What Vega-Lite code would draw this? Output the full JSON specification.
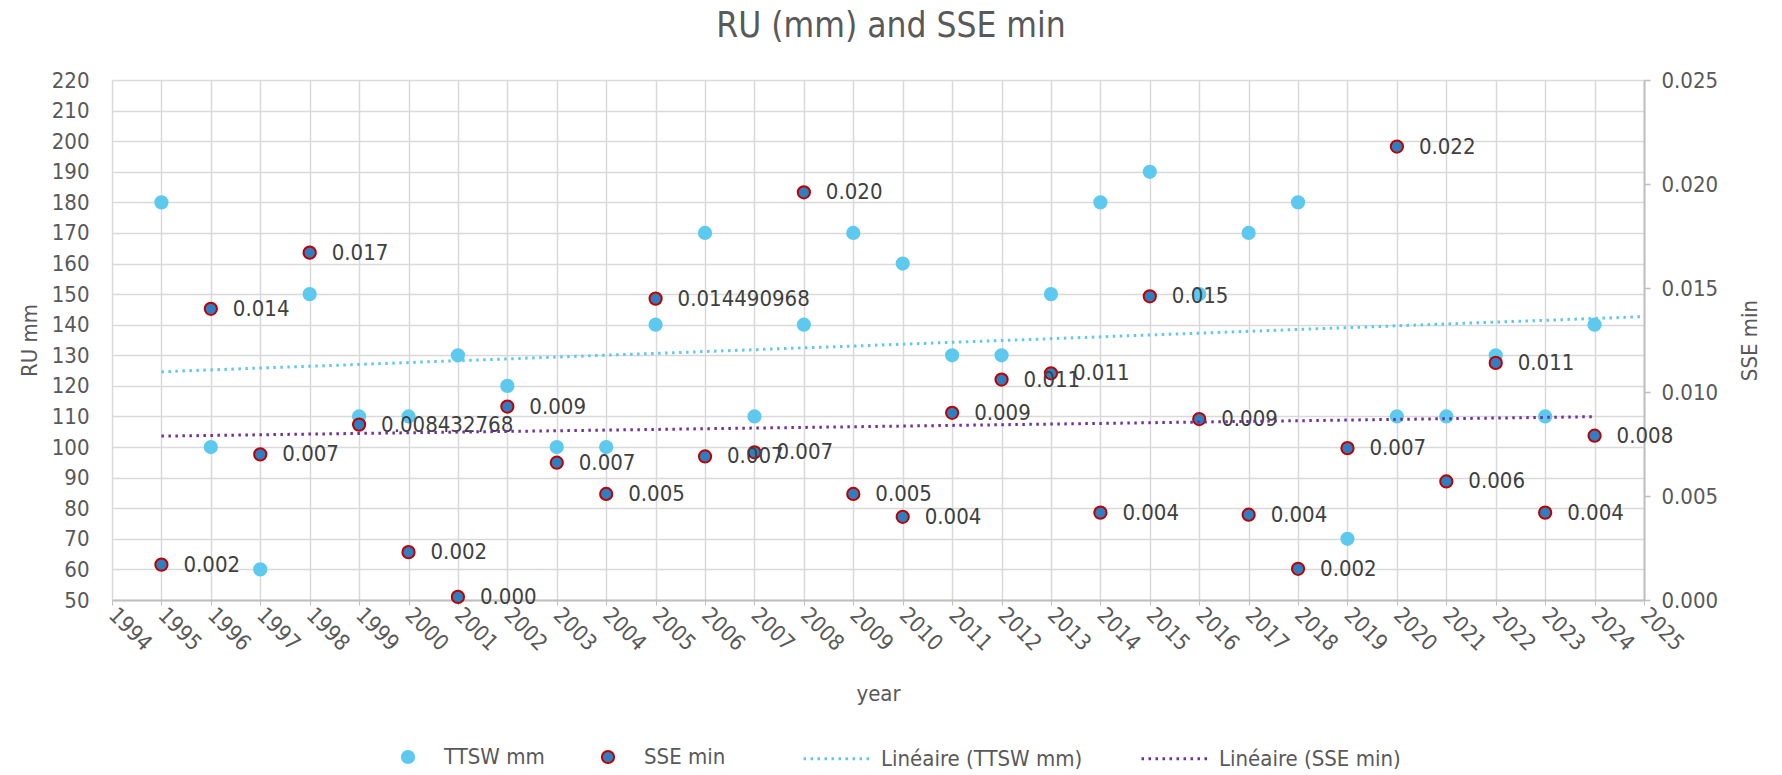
{
  "$schema": "https://vega.github.io/schema/vega-lite/v6.json",
  "width": 1532,
  "height": 520,
  "autosize": {"type": "none"},
  "padding": {"left": 112, "top": 80, "right": 138, "bottom": 175},
  "background": "white",
  "title": {"text": "RU (mm) and SSE min", "fontSize": 35, "font": "DejaVu Sans Condensed", "fontWeight": "normal", "color": "#595959", "anchor": "middle", "offset": 25, "dx": 13},
  "data": {"values": [
    {"year": 1995, "series": "TTSW mm", "value": 180},
    {"year": 1996, "series": "TTSW mm", "value": 100},
    {"year": 1997, "series": "TTSW mm", "value": 60},
    {"year": 1998, "series": "TTSW mm", "value": 150},
    {"year": 1999, "series": "TTSW mm", "value": 110},
    {"year": 2000, "series": "TTSW mm", "value": 110},
    {"year": 2001, "series": "TTSW mm", "value": 130},
    {"year": 2002, "series": "TTSW mm", "value": 120},
    {"year": 2003, "series": "TTSW mm", "value": 100},
    {"year": 2004, "series": "TTSW mm", "value": 100},
    {"year": 2005, "series": "TTSW mm", "value": 140},
    {"year": 2006, "series": "TTSW mm", "value": 170},
    {"year": 2007, "series": "TTSW mm", "value": 110},
    {"year": 2008, "series": "TTSW mm", "value": 140},
    {"year": 2009, "series": "TTSW mm", "value": 170},
    {"year": 2010, "series": "TTSW mm", "value": 160},
    {"year": 2011, "series": "TTSW mm", "value": 130},
    {"year": 2012, "series": "TTSW mm", "value": 130},
    {"year": 2013, "series": "TTSW mm", "value": 150},
    {"year": 2014, "series": "TTSW mm", "value": 180},
    {"year": 2015, "series": "TTSW mm", "value": 190},
    {"year": 2016, "series": "TTSW mm", "value": 150},
    {"year": 2017, "series": "TTSW mm", "value": 170},
    {"year": 2018, "series": "TTSW mm", "value": 180},
    {"year": 2019, "series": "TTSW mm", "value": 70},
    {"year": 2020, "series": "TTSW mm", "value": 110},
    {"year": 2021, "series": "TTSW mm", "value": 110},
    {"year": 2022, "series": "TTSW mm", "value": 130},
    {"year": 2023, "series": "TTSW mm", "value": 110},
    {"year": 2024, "series": "TTSW mm", "value": 140},
    {"year": 1995, "series": "SSE min", "value": 0.0017, "label": "0.002"},
    {"year": 1996, "series": "SSE min", "value": 0.0140, "label": "0.014"},
    {"year": 1997, "series": "SSE min", "value": 0.0070, "label": "0.007"},
    {"year": 1998, "series": "SSE min", "value": 0.0167, "label": "0.017"},
    {"year": 1999, "series": "SSE min", "value": 0.008432768, "label": "0.008432768"},
    {"year": 2000, "series": "SSE min", "value": 0.0023, "label": "0.002"},
    {"year": 2001, "series": "SSE min", "value": 0.00015, "label": "0.000"},
    {"year": 2002, "series": "SSE min", "value": 0.0093, "label": "0.009"},
    {"year": 2003, "series": "SSE min", "value": 0.0066, "label": "0.007"},
    {"year": 2004, "series": "SSE min", "value": 0.0051, "label": "0.005"},
    {"year": 2005, "series": "SSE min", "value": 0.014490968, "label": "0.014490968"},
    {"year": 2006, "series": "SSE min", "value": 0.0069, "label": "0.007"},
    {"year": 2007, "series": "SSE min", "value": 0.0071, "label": "0.007"},
    {"year": 2008, "series": "SSE min", "value": 0.0196, "label": "0.020"},
    {"year": 2009, "series": "SSE min", "value": 0.0051, "label": "0.005"},
    {"year": 2010, "series": "SSE min", "value": 0.0040, "label": "0.004"},
    {"year": 2011, "series": "SSE min", "value": 0.0090, "label": "0.009"},
    {"year": 2012, "series": "SSE min", "value": 0.0106, "label": "0.011"},
    {"year": 2013, "series": "SSE min", "value": 0.0109, "label": "0.011"},
    {"year": 2014, "series": "SSE min", "value": 0.0042, "label": "0.004"},
    {"year": 2015, "series": "SSE min", "value": 0.0146, "label": "0.015"},
    {"year": 2016, "series": "SSE min", "value": 0.0087, "label": "0.009"},
    {"year": 2017, "series": "SSE min", "value": 0.0041, "label": "0.004"},
    {"year": 2018, "series": "SSE min", "value": 0.0015, "label": "0.002"},
    {"year": 2019, "series": "SSE min", "value": 0.0073, "label": "0.007"},
    {"year": 2020, "series": "SSE min", "value": 0.0218, "label": "0.022"},
    {"year": 2021, "series": "SSE min", "value": 0.0057, "label": "0.006"},
    {"year": 2022, "series": "SSE min", "value": 0.0114, "label": "0.011"},
    {"year": 2023, "series": "SSE min", "value": 0.0042, "label": "0.004"},
    {"year": 2024, "series": "SSE min", "value": 0.0079, "label": "0.008"}
  ]},
  "encoding": {
    "x": {
      "field": "year", "type": "quantitative",
      "scale": {"domain": [1994, 2025], "nice": false, "zero": false},
      "axis": {
        "title": "year",
        "values": [1994,1995,1996,1997,1998,1999,2000,2001,2002,2003,2004,2005,2006,2007,2008,2009,2010,2011,2012,2013,2014,2015,2016,2017,2018,2019,2020,2021,2022,2023,2024,2025],
        "format": "d",
        "labelAngle": 45, "labelAlign": "left", "labelBaseline": "middle",
        "labelPadding": 6, "labelFlush": false, "labelOverlap": false,
        "grid": true, "gridColor": "#D9D9D9", "gridWidth": 1.5,
        "domainColor": "#BFBFBF", "domainWidth": 2,
        "ticks": true, "tickColor": "#BFBFBF", "tickSize": 5,
        "titlePadding": 29
      }
    }
  },
  "layer": [
    {
      "transform": [{"filter": "datum.series === 'TTSW mm'"}],
      "encoding": {
        "y": {
          "field": "value", "type": "quantitative",
          "scale": {"domain": [50, 220], "nice": false, "zero": false},
          "axis": {
            "title": "RU mm", "orient": "left",
            "values": [50,60,70,80,90,100,110,120,130,140,150,160,170,180,190,200,210,220],
            "grid": true, "gridColor": "#D9D9D9", "gridWidth": 1.5,
            "domain": false, "ticks": false, "labelPadding": 23, "titlePadding": 10
          }
        }
      },
      "layer": [
        {
          "mark": {"type": "point", "filled": true, "size": 150, "strokeWidth": 2, "opacity": 1},
          "encoding": {
            "fill": {"field": "series", "type": "nominal", "scale": {"domain": ["TTSW mm", "SSE min"], "range": ["#5DC9EF", "#2E7FC2"]},
              "legend": {"orient": "none", "legendX": 285, "legendY": 666, "direction": "horizontal", "title": null, "symbolType": "circle", "symbolSize": 150, "symbolStrokeWidth": 2, "labelOffset": 25, "columnPadding": 52, "padding": 0}},
            "stroke": {"field": "series", "type": "nominal", "scale": {"domain": ["TTSW mm", "SSE min"], "range": ["#5DC9EF", "#C00000"]},
              "legend": {"orient": "none", "legendX": 285, "legendY": 666, "direction": "horizontal", "title": null, "symbolType": "circle", "symbolSize": 150, "symbolStrokeWidth": 2, "labelOffset": 25, "columnPadding": 52, "padding": 0}}
          }
        },
        {
          "transform": [{"regression": "value", "on": "year", "extent": [1995, 2025]}],
          "mark": {"type": "line", "strokeWidth": 3, "strokeDash": [2.5, 4.5]},
          "encoding": {
            "color": {"datum": "Linéaire (TTSW mm)", "type": "nominal",
              "scale": {"domain": ["Linéaire (TTSW mm)", "Linéaire (SSE min)"], "range": ["#5DC9EF", "#7030A0"]},
              "legend": {"orient": "none", "legendX": 690, "legendY": 644, "direction": "horizontal", "title": null, "symbolType": "stroke", "symbolSize": 4356, "symbolStrokeWidth": 3, "symbolDash": [2.5, 4.5], "labelOffset": 10, "columnPadding": 52, "padding": 0}}
          }
        }
      ]
    },
    {
      "transform": [{"filter": "datum.series === 'SSE min'"}],
      "encoding": {
        "y": {
          "field": "value", "type": "quantitative",
          "scale": {"domain": [0, 0.025], "nice": false, "zero": false},
          "axis": {
            "title": "SSE min", "orient": "right", "titleAngle": 270,
            "values": [0, 0.005, 0.01, 0.015, 0.02, 0.025], "format": ".3f",
            "grid": false, "domain": true, "domainColor": "#BFBFBF", "domainWidth": 2,
            "ticks": true, "tickColor": "#BFBFBF", "tickSize": 6, "tickWidth": 1.5,
            "labelPadding": 11, "titlePadding": 44
          }
        }
      },
      "layer": [
        {
          "mark": {"type": "point", "filled": true, "size": 150, "strokeWidth": 2, "opacity": 1},
          "encoding": {
            "fill": {"field": "series", "type": "nominal", "scale": {"domain": ["TTSW mm", "SSE min"], "range": ["#5DC9EF", "#2E7FC2"]},
              "legend": {"orient": "none", "legendX": 285, "legendY": 666, "direction": "horizontal", "title": null, "symbolType": "circle", "symbolSize": 150, "symbolStrokeWidth": 2, "labelOffset": 25, "columnPadding": 52, "padding": 0}},
            "stroke": {"field": "series", "type": "nominal", "scale": {"domain": ["TTSW mm", "SSE min"], "range": ["#5DC9EF", "#C00000"]},
              "legend": {"orient": "none", "legendX": 285, "legendY": 666, "direction": "horizontal", "title": null, "symbolType": "circle", "symbolSize": 150, "symbolStrokeWidth": 2, "labelOffset": 25, "columnPadding": 52, "padding": 0}}
          }
        },
        {
          "mark": {"type": "text", "align": "left", "baseline": "middle", "dx": 22, "fontSize": 22, "font": "DejaVu Sans Condensed", "color": "#404040"},
          "encoding": {"text": {"field": "label", "type": "nominal"}}
        },
        {
          "transform": [{"regression": "value", "on": "year", "extent": [1995, 2024]}],
          "mark": {"type": "line", "strokeWidth": 3, "strokeDash": [2.5, 4.5]},
          "encoding": {
            "color": {"datum": "Linéaire (SSE min)", "type": "nominal",
              "scale": {"domain": ["Linéaire (TTSW mm)", "Linéaire (SSE min)"], "range": ["#5DC9EF", "#7030A0"]},
              "legend": {"orient": "none", "legendX": 690, "legendY": 644, "direction": "horizontal", "title": null, "symbolType": "stroke", "symbolSize": 4356, "symbolStrokeWidth": 3, "symbolDash": [2.5, 4.5], "labelOffset": 10, "columnPadding": 52, "padding": 0}}
          }
        }
      ]
    }
  ],
  "resolve": {"scale": {"y": "independent"}},
  "config": {
    "font": "DejaVu Sans Condensed",
    "view": {"stroke": null},
    "axis": {"labelFont": "DejaVu Sans Condensed", "titleFont": "DejaVu Sans Condensed", "labelFontSize": 22, "titleFontSize": 22, "labelColor": "#595959", "titleColor": "#595959", "titleFontWeight": "normal"},
    "legend": {"labelFont": "DejaVu Sans Condensed", "labelFontSize": 22, "labelColor": "#595959", "labelLimit": 400}
  }
}
